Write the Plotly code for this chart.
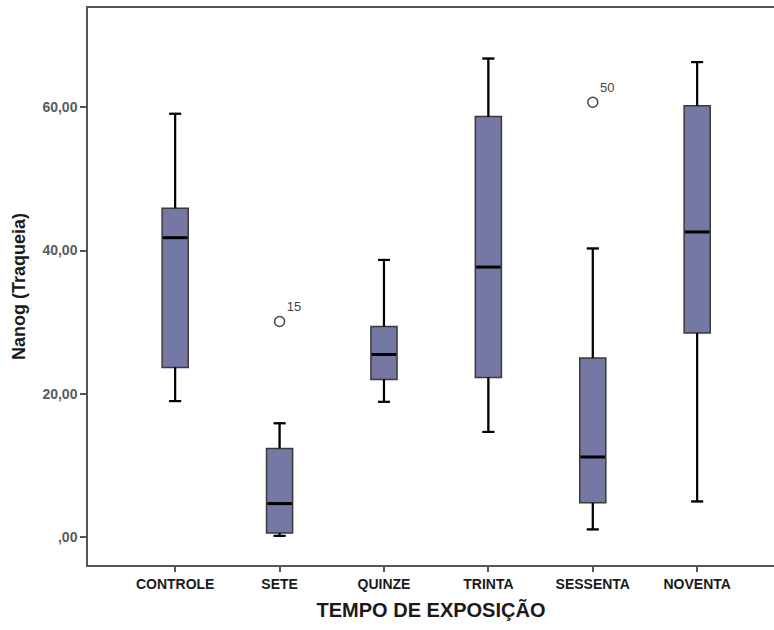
import plotly.graph_objects as go

categories = ["CONTROLE", "SETE", "QUINZE", "TRINTA", "SESSENTA", "NOVENTA"]
lower_whisker = [19.0, 0.2, 18.9, 14.7, 1.1, 5.0]
q1_vals = [23.7, 0.6, 22.0, 22.3, 4.8, 28.5]
median_vals = [41.8, 4.7, 25.5, 37.7, 11.2, 42.6]
q3_vals = [45.9, 12.4, 29.4, 58.7, 25.0, 60.2]
upper_whisker = [59.1, 15.9, 38.7, 66.8, 40.3, 66.3]

outlier_cat = [1, 4]
outlier_vals = [30.1, 60.7]
outlier_labels = ["15", "50"]

y_tickvals = [0, 20, 40, 60]
y_ticktext = [",00", "20,00", "40,00", "60,00"]

xs = list(range(len(categories)))
box_w = 0.25
cap_w = 0.115

fig = go.Figure()
fig.add_trace(go.Box(
    x=xs, q1=q1_vals, median=median_vals, q3=q3_vals,
    lowerfence=lower_whisker, upperfence=upper_whisker,
    width=box_w, whiskerwidth=0.45,
    fillcolor="#7577a5", line=dict(color="#3a3a3a", width=1.5),
    boxpoints=False, showlegend=False, hoverinfo="skip",
))

# whiskers and caps (thicker black, as in SPSS)
wx, wy = [], []
for i, lo, a, b, hi in zip(xs, lower_whisker, q1_vals, q3_vals, upper_whisker):
    wx += [i, i, None, i, i, None]
    wy += [hi, b, None, a, lo, None]
    wx += [i - cap_w / 2, i + cap_w / 2, None, i - cap_w / 2, i + cap_w / 2, None]
    wy += [hi, hi, None, lo, lo, None]
fig.add_trace(go.Scatter(x=wx, y=wy, mode="lines",
                         line=dict(color="black", width=2.2),
                         showlegend=False, hoverinfo="skip"))

mx, my = [], []
for i, m in zip(xs, median_vals):
    mx += [i - box_w / 2 + 0.008, i + box_w / 2 - 0.008, None]
    my += [m, m, None]
fig.add_trace(go.Scatter(x=mx, y=my, mode="lines",
                         line=dict(color="black", width=3),
                         showlegend=False, hoverinfo="skip"))

fig.add_trace(go.Scatter(
    x=outlier_cat, y=outlier_vals, mode="markers+text",
    text=outlier_labels, textposition="top right",
    textfont=dict(family="Liberation Sans", size=13, color="#444"),
    marker=dict(symbol="circle-open", size=10, color="#444", line=dict(width=1.5)),
    showlegend=False, hoverinfo="skip",
))

fig.update_layout(
    width=774, height=630,
    margin=dict(l=88, r=0, t=8, b=65),
    paper_bgcolor="white", plot_bgcolor="white",
    font=dict(family="Liberation Sans", color="#222"),
    xaxis=dict(
        range=[-0.835, 5.736], tickvals=xs, ticktext=categories,
        showgrid=False, zeroline=False, showline=True, linecolor="#555", linewidth=1.5,
        mirror=True, ticks="outside", ticklen=5, tickcolor="#555", tickwidth=1.5,
        tickfont=dict(family="Liberation Sans Narrow, Liberation Sans", size=14, color="#1a1a1a",
                      weight="bold"),
        title=dict(text="<b>TEMPO DE EXPOSIÇÃO</b>",
                   font=dict(family="Liberation Sans Narrow, Liberation Sans", size=20, color="#1a1a1a"),
                   standoff=12),
    ),
    yaxis=dict(
        range=[-3.87, 73.85], tickvals=y_tickvals, ticktext=y_ticktext,
        showgrid=False, zeroline=False, showline=True, linecolor="#555", linewidth=1.5,
        ticks="outside", ticklen=6, tickcolor="#555", tickwidth=1.5,
        tickfont=dict(family="Liberation Sans", size=14, color="#5a5a5a", weight="bold"),
        title=dict(text="<b>Nanog (Traqueia)</b>",
                   font=dict(family="Liberation Sans", size=18, color="#1a1a1a"),
                   standoff=12),
    ),
)

fig.write_html("out.html")
